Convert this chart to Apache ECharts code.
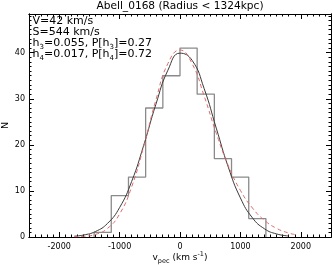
<!DOCTYPE html>
<html><head><meta charset="utf-8">
<script src="https://cdn.jsdelivr.net/npm/echarts@6/dist/echarts.min.js"></script>
<style>html,body{margin:0;padding:0;background:#fff}#c{width:333px;height:265px}</style>
</head><body><div id="c"></div>
<script>
// Histogram bin edges (km/s) and counts
const binEdges = [-1422, -1138, -853, -569, -284, 0, 284, 569, 853, 1138, 1422];
const binCounts = [1, 9, 13, 28, 35, 41, 31, 17, 13, 4];
// Gaussian fit curve (black)
const gaussV = [-1750, -1600, -1400, -1200, -1000, -800, -600, -400, -200, 0, 200, 400, 600, 800, 1000, 1200, 1400, 1600, 1800];
const gaussN = [0.18, 0.42, 1.19, 2.95, 6.39, 12.07, 19.94, 28.76, 36.2, 39.9, 38.35, 32.2, 23.64, 15.15, 8.48, 4.15, 1.77, 0.66, 0.22];
// Gauss-Hermite fit curve (red dashed)
const ghV = [-1750, -1600, -1400, -1200, -1000, -800, -600, -400, -200, 0, 200, 400, 600, 800, 1000, 1200, 1400, 1600, 1800, 1900];
const ghN = [0.04, 0.14, 0.56, 1.87, 4.99, 10.89, 19.69, 29.69, 37.66, 40.58, 37.63, 30.6, 22.53, 15.48, 10.12, 6.29, 3.61, 1.87, 0.85, 0.54];
// Text
const titleText = 'Abell_0168 (Radius < 1324kpc)';
const annotLines = ['V=42 km/s', 'S=544 km/s', 'h{s|3}=0.055, P[h{s|3}]=0.27', 'h{s|4}=0.017, P[h{s|4}]=0.72'];
const xRange = [-2500, 2500];
const yRange = [0, 48.4];

const histData = [[binEdges[0], 0]];
binCounts.forEach((c, i) => histData.push([binEdges[i], c]));
histData.push([binEdges[binEdges.length - 1], 0]);
const gaussData = gaussV.map((v, i) => [v, gaussN[i]]);
const ghData = ghV.map((v, i) => [v, ghN[i]]);

const FONT = 'DejaVu Sans';
const axisLineStyle = { color: '#000', width: 1 };
const plainFmt = v => String(v);

function xAx(pos, major, labels) {
  const a = {
    type: 'value', position: pos, min: xRange[0], max: xRange[1],
    axisLine: { show: true, lineStyle: axisLineStyle, onZero: false },
    splitLine: { show: false },
    axisTick: { show: true, inside: true, length: major ? 5 : 2.5, lineStyle: { color: '#000', width: 1 } },
    axisLabel: { show: labels, fontFamily: FONT, fontSize: 8, color: '#000', margin: 6, showMinLabel: false, showMaxLabel: false, formatter: plainFmt },
  };
  if (major) { a.splitNumber = 5; a.minInterval = 1000; a.maxInterval = 1000; }
  else { a.interval = 100; }
  if (labels) {
    a.name = '{v|v}{s|pec}{v| (km s}{p|-1}{v|)}';
    a.nameLocation = 'middle';
    a.nameGap = 14;
    a.nameMoveOverlap = false;
    a.nameTextStyle = {
      fontFamily: FONT, fontSize: 9, color: '#000', lineHeight: 14,
      rich: {
        v: { fontFamily: FONT, fontSize: 9, color: '#000', lineHeight: 14, verticalAlign: 'middle' },
        s: { fontFamily: FONT, fontSize: 6.5, color: '#000', verticalAlign: 'bottom', lineHeight: 8 },
        p: { fontFamily: FONT, fontSize: 6.5, color: '#000', verticalAlign: 'top', lineHeight: 8 }
      }
    };
  }
  return a;
}
function yAx(pos, major, labels) {
  const a = {
    type: 'value', position: pos, min: yRange[0], max: yRange[1], interval: major ? 10 : 1,
    axisLine: { show: true, lineStyle: axisLineStyle, onZero: false },
    splitLine: { show: false },
    axisTick: { show: true, inside: true, length: major ? 5 : 2.5, lineStyle: { color: '#000', width: 1 } },
    axisLabel: { show: labels, fontFamily: FONT, fontSize: 8, color: '#000', margin: 4, showMaxLabel: false, formatter: plainFmt },
  };
  if (labels) {
    a.name = 'N';
    a.nameLocation = 'middle';
    a.nameGap = 18;
    a.nameMoveOverlap = false;
    a.nameTextStyle = { fontFamily: FONT, fontSize: 9.5, color: '#000' };
  }
  return a;
}

const graphics = [{
  type: 'text', x: 180, y: 6,
  style: { text: titleText, font: '10.6px "DejaVu Sans"', fill: '#000', textAlign: 'center', textVerticalAlign: 'middle' }
}];
const annotY = [21, 32.2, 43.4, 54.6];
annotLines.forEach((t, i) => {
  graphics.push({
    type: 'text', x: 32.5, y: annotY[i],
    style: {
      text: '{m|' + t.replace(/\{s\|(\d)\}/g, '}{s|$1}{m|') + '}',
      textAlign: 'left', textVerticalAlign: 'middle',
      rich: {
        m: { fontFamily: FONT, fontSize: 11, fill: '#000', lineHeight: 15, verticalAlign: 'middle' },
        s: { fontFamily: FONT, fontSize: 7, fill: '#000', lineHeight: 7, verticalAlign: 'bottom' }
      }
    }
  });
});

const chart = echarts.init(document.getElementById('c'), null, { renderer: 'canvas' });
chart.setOption({
  animation: false,
  backgroundColor: '#fff',
  grid: { left: 29, right: 2, top: 14, bottom: 28, containLabel: false, outerBoundsMode: 'none' },
  xAxis: [xAx('bottom', true, true), xAx('bottom', false, false), xAx('top', true, false), xAx('top', false, false)],
  yAxis: [yAx('left', true, true), yAx('left', false, false), yAx('right', true, false), yAx('right', false, false)],
  series: [
    { type: 'line', data: histData, step: 'end', symbol: 'none', xAxisIndex: 0, yAxisIndex: 0,
      lineStyle: { color: '#8a8a8a', width: 1.3 } },
    { type: 'line', data: gaussData, smooth: true, symbol: 'none', xAxisIndex: 0, yAxisIndex: 0,
      lineStyle: { color: '#3a3a3a', width: 1 } },
    { type: 'line', data: ghData, smooth: true, symbol: 'none', xAxisIndex: 0, yAxisIndex: 0,
      lineStyle: { color: '#e06a6a', width: 1, type: [4, 3] } }
  ],
  graphic: graphics
});
</script>
</body></html>
